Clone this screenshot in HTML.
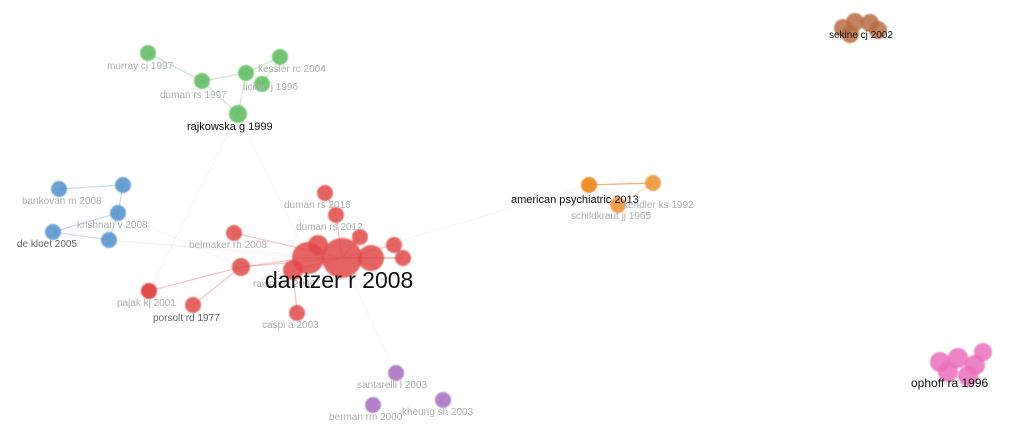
<!DOCTYPE html>
<html><head><meta charset="utf-8"><style>
html,body{margin:0;padding:0;background:#fff;}
svg{display:block;font-family:"Liberation Sans",sans-serif;}
</style></head><body>
<svg id="net" width="1021" height="433" viewBox="0 0 1021 433">
<defs><filter id="bl"><feGaussianBlur stdDeviation="0.7"/></filter></defs>
</svg>
<script>
// node data
const nodeLabels=["murray cj 1997","kessler rc 2004","","licinio j 1996","duman rs 1997","rajkowska g 1999",
"bankovan m 2008","","krishnan v 2008","de kloet 2005","",
"","duman rs 2016","duman rs 2012","belmaker rh 2008","","","","","","","raison cl 2006","","","pajak kj 2001","porsolt rd 1977","caspi a 2003","dantzer r 2008",
"","american psychiatric 2013","kendler ks 1992","schildkraut jj 1965",
"","","","","sekine cj 2002",
"","","","","","ophoff ra 1996",
"santarelli l 2003","kheung sh 2003","berman rm 2000"];
const nodeX=[148,280,246,262,202,238, 59,123,118,53,109, 403,325,336,234,360,318,394,308,342,371,293,241,149,149,193,297,342, 589,589,653,618, 843,855,870,878,850, 940,958,975,983,948,968, 396,443,373];
const nodeY=[53,57,73,84,81,114, 189,185,213,232,240, 258,193,215,233,237,245,245,258,258,258,270,267,291,291,305,313,258, 185,185,183,205, 28,22,23,30,34, 362,358,365,352,372,376, 373,400,405];
const nodeSize=[8,8,8,8,8,9, 8,8,8,8,8, 8,8,8,8,8,10,8,16,20,13,10,9,8,8,8,8,0, 8,8,8,8, 9,9,9,9,9, 10,10,10,9,10,10, 8,8,8];
const nodeCluster=[0,0,0,0,0,0, 1,1,1,1,1, 2,2,2,2,2,2,2,2,2,2,2,2,2,2,2,2,2, 3,3,3,3, 4,4,4,4,4, 5,5,5,5,5,5, 6,6,6];
const labelX=[107,258,0,243,160,187, 22,77,77,17,0, 400,284,296,189,0,0,0,0,0,0,253,0,0,117,153,262,265, 0,511,623,571, 0,0,0,815,829, 0,0,0,0,0,911, 357,402,329];
const labelY=[69,72,0,90,98,130, 204,204,228,247,0, 273,208,230,248,0,0,0,0,0,0,287,0,0,306,321,328,288, 0,203,208,219, 0,0,0,51,38, 0,0,0,0,0,387, 388,415,420];
const labelSize=[10,10,10,10,10,11, 10,10,10,10,10, 10,10,10,10,10,10,10,10,10,10,10,10,10,10,10,10,23, 10,11,10,10, 10,10,10,10,10, 10,10,10,10,10,12, 10,10,10];
const labelDark=[0,0,0,0,0,1, 0,0,0,2,0, 0,0,0,0,0,0,0,0,0,0,0,0,0,0,2,0,1, 0,1,0,0, 0,0,0,0,1, 0,0,0,0,0,1, 0,0,0];
const edgesFrom=[0,4,4,2,2,1,5, 6,7,8,9,9,10, 14,22,23,25,26,12,13,15,17,19,18,19,21,22, 28,29,30,30, 5,10,27,27,20,8];
const edgesTo=[4,2,5,5,1,3,18, 7,8,10,10,8,18, 19,19,22,22,21,13,19,19,19,20,20,11,19,18, 30,30,31,29, 23,19,43,29,11,22];
const colors=["#5cb85c","#4f8ec9","#e04848","#ee8e2a","#b86c44","#ea6fbb","#a66bbd"];
const svg=document.getElementById('net');
const NS="http://www.w3.org/2000/svg";
const eg=document.createElementNS(NS,'g');svg.appendChild(eg);
for(let i=0;i<edgesFrom.length;i++){
 const a=edgesFrom[i],b=edgesTo[i];
 const l=document.createElementNS(NS,'line');
 
 
 l.setAttribute('x1',nodeX[a]);l.setAttribute('y1',nodeY[a]);
 l.setAttribute('x2',nodeX[b]);l.setAttribute('y2',nodeY[b]);
 const same=nodeCluster[a]===nodeCluster[b];
 l.setAttribute('stroke',same?colors[nodeCluster[a]]:'#dddddd');
 l.setAttribute('stroke-opacity',same?0.3:0.3);
 l.setAttribute('stroke-width',same?1.3:1);
 eg.appendChild(l);
}
const ng=document.createElementNS(NS,'g');svg.appendChild(ng);
ng.setAttribute('filter','url(#bl)');
for(let i=0;i<nodeX.length;i++){
 if(nodeSize[i]<=0)continue;
 const c=document.createElementNS(NS,'circle');
 
 
 c.setAttribute('cx',nodeX[i]);c.setAttribute('cy',nodeY[i]);c.setAttribute('r',nodeSize[i]);
 c.setAttribute('fill',colors[nodeCluster[i]]);c.setAttribute('fill-opacity',0.85);
 ng.appendChild(c);
}
const tg=document.createElementNS(NS,'g');svg.appendChild(tg);
for(let i=0;i<nodeLabels.length;i++){
 if(!nodeLabels[i])continue;
 const t=document.createElementNS(NS,'text');
 
 
 t.setAttribute('x',labelX[i]);t.setAttribute('y',labelY[i]);
 t.setAttribute('font-size',labelSize[i]);
 t.setAttribute('fill',labelDark[i]===1?'#111':(labelDark[i]===2?'#666':'#b0b0b0'));
 t.textContent=nodeLabels[i];
 tg.appendChild(t);
}
</script>
</body></html>
